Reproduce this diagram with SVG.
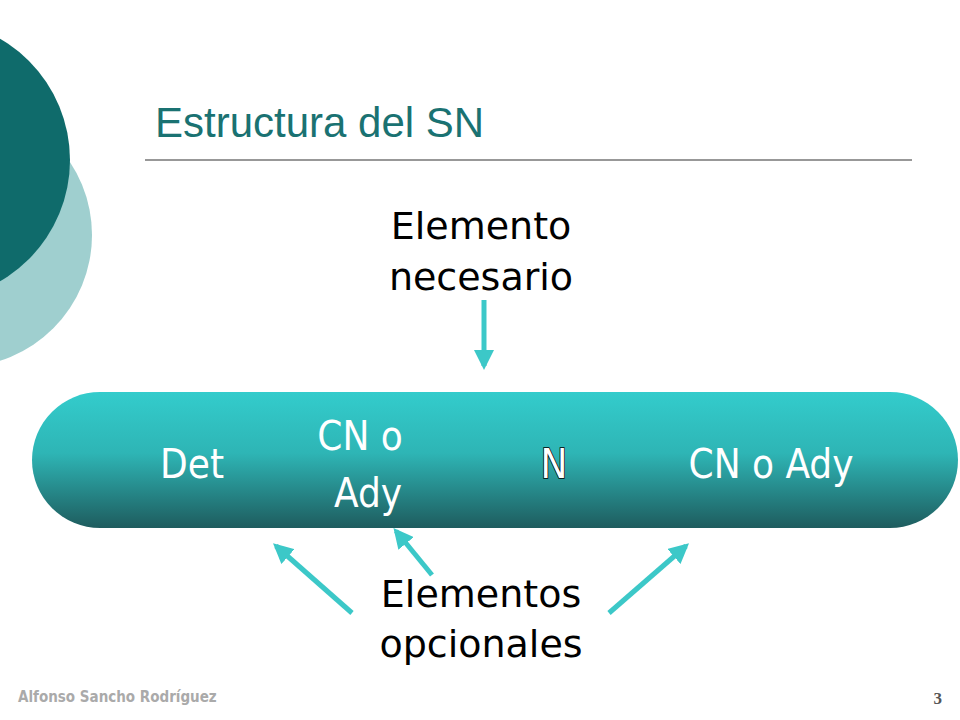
<svg xmlns="http://www.w3.org/2000/svg" width="960" height="720" viewBox="0 0 960 720">
<style>
.w{font-family:"DejaVu Sans Condensed","DejaVu Sans",sans-serif;fill:#fff;font-size:40px;text-anchor:middle}
.b{font-family:"DejaVu Sans",sans-serif;fill:#000;font-size:38px;text-anchor:middle}
.c{stroke:#3cc8c8;stroke-width:5;fill:none;marker-end:url(#ah)}
</style>
<defs>
<linearGradient id="g" x1="0" y1="0" x2="0" y2="1"><stop offset="0" stop-color="#33cccc"/><stop offset="0.45" stop-color="#2eb5b5"/><stop offset="1" stop-color="#1e5c5e"/></linearGradient>
<marker id="ah" viewBox="0 0 10 10" refX="8" refY="5" markerWidth="4" markerHeight="4" orient="auto"><path d="M0,0L10,5L0,10z" fill="#3cc8c8"/></marker>
</defs>
<rect width="960" height="720" fill="#fff"/>
<circle cx="-40" cy="235" r="132" fill="#9fcfcf"/>
<circle cx="-70" cy="160" r="140" fill="#0f6b6b"/>
<text x="155" y="137" font-family="Liberation Sans,Arial,sans-serif" font-size="42" fill="#1a7272">Estructura del SN</text>
<line x1="145" y1="160" x2="912" y2="160" stroke="#333" stroke-width="1.2"/>
<g id="pill"><rect x="32" y="392" width="926" height="136" rx="68" fill="url(#g)"/>
<text class="w" x="192" y="478">Det</text>
<text class="w" x="360" y="450">CN o</text><text class="w" x="368" y="507">Ady</text>
<text class="w" x="554" y="478" stroke="#000" stroke-width="1.5" paint-order="stroke">N</text>
<text class="w" x="771" y="478">CN o Ady</text></g>
<g id="top"><text class="b" x="481" y="239">Elemento</text><text class="b" x="481" y="290">necesario</text></g>
<g id="bottom"><text class="b" x="481" y="607">Elementos</text><text class="b" x="481" y="657">opcionales</text></g>
<g id="connectors">
<line class="c" x1="484" y1="300" x2="484" y2="366"/>
<line class="c" x1="352" y1="613" x2="276" y2="546"/>
<line class="c" x1="432" y1="575" x2="396" y2="531"/>
<line class="c" x1="609" y1="613" x2="686" y2="546"/>
</g>
<text x="18" y="702" font-family="DejaVu Sans Condensed,sans-serif" font-weight="bold" font-size="15" fill="#aaa">Alfonso Sancho Rodríguez</text>
<text x="942" y="704" font-family="Liberation Serif,serif" font-weight="bold" font-size="17" fill="#555" text-anchor="end">3</text>
</svg>
